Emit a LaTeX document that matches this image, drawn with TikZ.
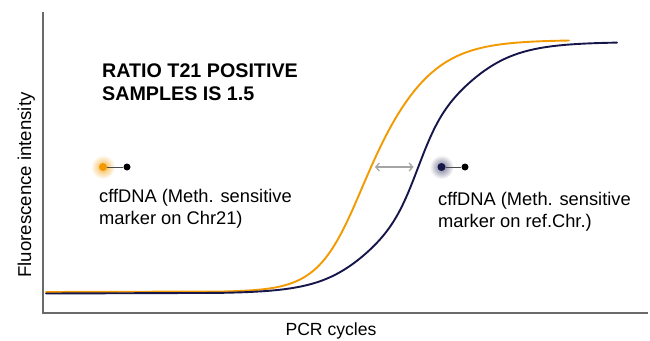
\documentclass[tikz,border=0pt]{standalone}
\usepackage{fontspec}
\setmainfont{Liberation Sans}
\usetikzlibrary{arrows.meta}
\definecolor{orangeC}{HTML}{F39A00}
\definecolor{navyC}{HTML}{16164A}
\definecolor{axisC}{HTML}{6A6A6A}
\definecolor{arrowC}{HTML}{A5A5A5}
\begin{document}
\begin{tikzpicture}[x=1pt,y=-1pt,
  axisline/.style={draw=axisC,line width=1.4pt},
  curveline/.style={line width=1.9pt,line join=round,line cap=round},
  lbl/.style={font=\fontsize{18.3}{22}\selectfont,anchor=base west,inner sep=0pt},
  ttl/.style={font=\fontsize{19.7}{23}\selectfont\bfseries,anchor=base west,inner sep=0pt},
  axlbl/.style={font=\fontsize{17.6}{21}\selectfont,anchor=base,inner sep=0pt},
  dotc/.style={circle,inner sep=0pt,minimum size=8pt},
  blackdot/.style={circle,fill=black,inner sep=0pt,minimum size=7pt}]
\useasboundingbox (0,0) rectangle (650,340);
\fill[white] (0,0) rectangle (650,340);
% axes
\coordinate (ytop) at (43,12);
\coordinate (orig) at (43,313);
\coordinate (xend) at (648,313);
\draw[axisline] (ytop) -- (orig) -- (xend);
% curves
\draw[curveline,orangeC] (46,292) -- (220,291.5)
  plot[domain=220:569,samples=160,variable=\x]
  ({\x},{292-252/(1+exp(-(\x-371.5)/(28+4*tanh((\x-371.5)/40))))});
\draw[curveline,navyC] (46,293.5) -- (220,292.9)
  plot[domain=220:617,samples=180,variable=\x]
  ({\x},{293.5-251.5/(1+exp(-(\x-418)/(33-9*exp(-((\x-418)/40)^2))))});
% shift arrow
\coordinate (a1) at (375,167);
\coordinate (a2) at (413.5,167);
\draw[arrowC,line width=1.3pt,{Straight Barb[length=3.5pt,width=8pt]}-{Straight Barb[length=3.5pt,width=8pt]}] (a1) -- (a2);
% left legend
\shade[inner color=orangeC!75,outer color=white] (103,167) circle (12pt);
\node[dotc,fill=orangeC] (od) at (103,167) {};
\node[blackdot] (ob) at (127,167) {};
\draw[black!70,line width=1pt] (od) -- (ob);
\node[lbl] (l1) at (99,202) {cffDNA (Meth. sensitive};
\node[lbl] (l2) at (99,224) {marker on Chr21)};
% right legend
\shade[inner color=navyC!60,outer color=white] (441.5,167) circle (12pt);
\node[dotc,fill=navyC] (nd) at (441.5,167) {};
\node[blackdot] (nb) at (465,167) {};
\draw[black!70,line width=1pt] (nd) -- (nb);
\node[lbl] (r1) at (438,205) {cffDNA (Meth. sensitive};
\node[lbl] (r2) at (438,227) {marker on ref.Chr.)};
% title
\node[ttl] (t1) at (102,77) {RATIO T21 POSITIVE};
\node[ttl] (t2) at (102,100.5) {SAMPLES IS 1.5};
% axis labels
\node[axlbl,rotate=90,font=\fontsize{18.6}{21}\selectfont] (yl) at (31,185) {Fluorescence intensity};
\node[axlbl] (xl) at (331,335) {PCR cycles};
\end{tikzpicture}
\end{document}
